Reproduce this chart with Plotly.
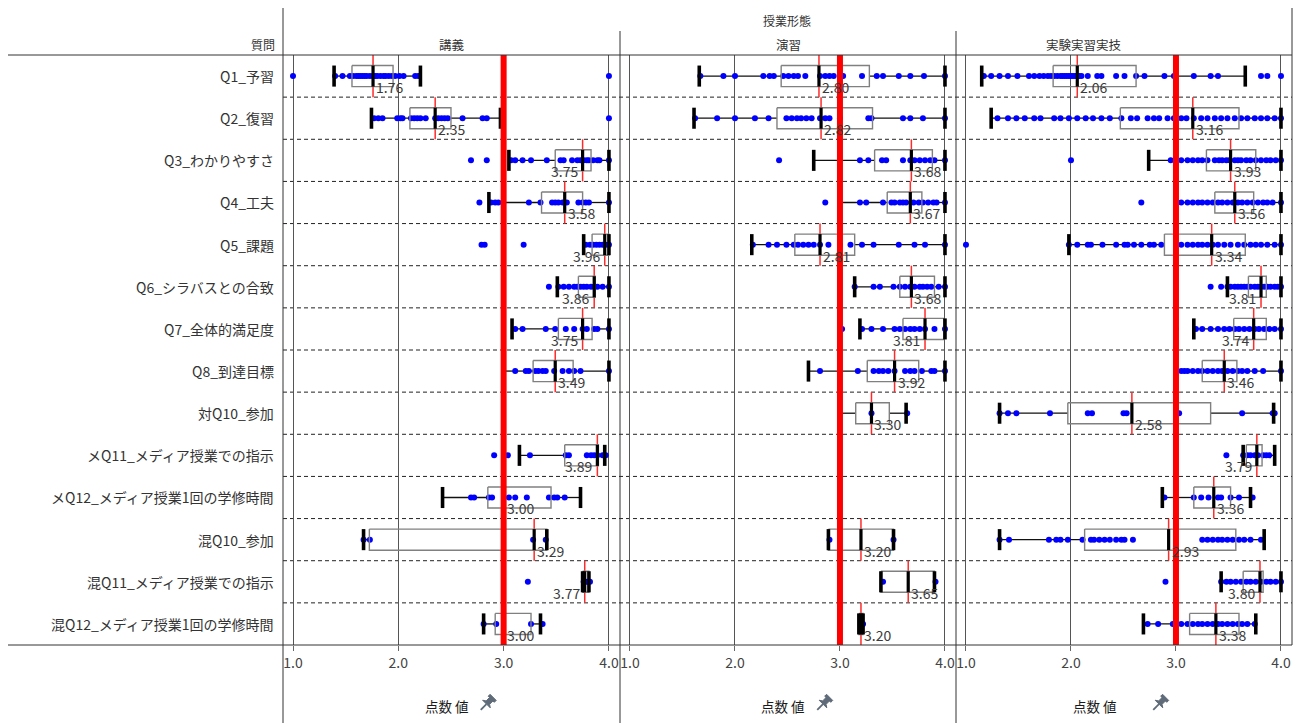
import plotly.graph_objects as go

# ---------------- data ----------------
ROWS = ["Q1_予習", "Q2_復習", "Q3_わかりやすさ", "Q4_工夫", "Q5_課題",
        "Q6_シラバスとの合致", "Q7_全体的満足度", "Q8_到達目標", "対Q10_参加",
        "メQ11_メディア授業での指示", "メQ12_メディア授業1回の学修時間",
        "混Q10_参加", "混Q11_メディア授業での指示", "混Q12_メディア授業1回の学修時間"]
PANELS = ["講義", "演習", "実験実習実技"]
SUPER_HEADER = "授業形態"
ROW_HEADER = "質問"
AXIS_TITLE = "点数 値"
TICK_VALUES = [1, 2, 3, 4]
TICK_LABELS = ["1.0", "2.0", "3.0", "4.0"]
TARGET = 3.0

# 講義
P1_LO = [1.39, 1.745, 3.05, 2.86, 3.76, 3.51, 3.08, 3.0, None, 3.15, 2.42, 1.67, 3.75, 2.81]
P1_Q1 = [1.56, 2.11, 3.49, 3.36, 3.84, 3.71, 3.52, 3.28, None, 3.58, 2.85, 1.725, 3.75, 2.92]
P1_MED = [1.76, 2.35, 3.75, 3.58, 3.96, 3.86, 3.75, 3.49, None, 3.89, 3.00, 3.29, 3.77, 3.00]
P1_Q3 = [1.95, 2.50, 3.83, 3.75, 4.0, 3.87, 3.84, 3.66, None, 3.90, 3.45, 3.41, 3.81, 3.26]
P1_HI = [2.21, 2.97, 4.0, 4.0, 4.0, 4.0, 4.0, 4.0, None, 3.96, 3.73, 3.41, 3.81, 3.35]
P1_LBL = ["1.76", "2.35", "3.75", "3.58", "3.96", "3.86", "3.75", "3.49", None,
          "3.89", "3.00", "3.29", "3.77", "3.00"]
P1_DOTS = [
    [1.0, 1.40, 1.47, 1.54, 1.57, 1.60, 1.62, 1.64, 1.66, 1.68, 1.70, 1.73, 1.76, 1.78,
     1.80, 1.83, 1.86, 1.88, 1.91, 1.94, 1.97, 2.01, 2.05, 2.16, 2.19, 4.0],
    [1.77, 1.81, 1.85, 1.99, 2.02, 2.04, 2.12, 2.15, 2.18, 2.21, 2.26, 2.35, 2.38, 2.41,
     2.44, 2.47, 2.61, 2.80, 2.84, 4.0],
    [2.69, 2.84, 3.07, 3.11, 3.18, 3.26, 3.41, 3.54, 3.57, 3.65, 3.70, 3.73, 3.76, 3.79,
     3.81, 3.85, 3.89, 3.91, 4.0],
    [2.77, 2.88, 2.92, 2.95, 3.24, 3.35, 3.46, 3.49, 3.52, 3.56, 3.60, 3.71, 3.75, 3.78,
     3.81, 4.0],
    [2.79, 2.82, 3.19, 3.78, 3.82, 3.85, 3.88, 3.91, 3.94, 3.97, 4.0],
    [3.43, 3.52, 3.57, 3.62, 3.67, 3.70, 3.73, 3.76, 3.79, 3.83, 3.86, 3.89, 3.94, 4.0],
    [3.11, 3.18, 3.40, 3.49, 3.59, 3.67, 3.75, 3.79, 3.86, 3.89, 4.0],
    [3.11, 3.21, 3.24, 3.30, 3.33, 3.37, 3.40, 3.48, 3.56, 3.62, 3.67, 3.73, 4.0],
    [],
    [2.91, 3.04, 3.25, 3.59, 3.62, 3.79, 3.83, 3.86, 3.89, 3.94, 3.97],
    [2.69, 2.72, 2.86, 2.89, 3.05, 3.11, 3.22, 3.43, 3.48, 3.51, 3.58],
    [1.67, 1.73, 3.28, 3.40],
    [3.23, 3.76, 3.78, 3.80, 3.82],
    [2.81, 2.93, 3.26, 3.37],
]

# 演習
P2_LO = [1.66, 1.61, 2.75, 3.0, 2.16, 3.14, 3.19, 2.70, 3.0, None, None, 2.89, 3.39, 3.18]
P2_Q1 = [2.44, 2.40, 3.33, 3.45, 2.57, 3.57, 3.60, 3.26, 3.15, None, None, 2.89, 3.39, 3.18]
P2_MED = [2.80, 2.82, 3.68, 3.67, 2.81, 3.68, 3.81, 3.52, 3.30, None, None, 3.20, 3.65, 3.20]
P2_Q3 = [3.28, 3.31, 3.88, 3.78, 3.14, 3.90, 3.99, 3.75, 3.47, None, None, 3.51, 3.90, 3.22]
P2_HI = [4.0, 4.0, 4.0, 4.0, 4.0, 4.0, 4.0, 4.0, 3.63, None, None, 3.51, 3.90, 3.22]
P2_LBL = ["2.80", "2.82", "3.68", "3.67", "2.81", "3.68", "3.81", "3.92", "3.30", None, None,
          "3.20", "3.65", "3.20"]
P2_DOTS = [
    [1.67, 1.89, 2.0, 2.27, 2.33, 2.37, 2.46, 2.51, 2.56, 2.60, 2.67, 2.81, 2.86, 2.90,
     2.94, 3.03, 3.21, 3.35, 3.41, 3.56, 3.67, 3.80, 4.0],
    [1.62, 1.83, 2.0, 2.19, 2.32, 2.49, 2.54, 2.59, 2.63, 2.68, 2.73, 2.81, 2.86, 2.90,
     3.0, 3.27, 3.30, 3.60, 3.67, 3.79, 4.0],
    [2.42, 3.19, 3.27, 3.40, 3.44, 3.60, 3.67, 3.71, 3.76, 3.81, 3.86, 3.90, 4.0],
    [2.86, 3.19, 3.25, 3.41, 3.49, 3.52, 3.57, 3.60, 3.63, 3.70, 3.75, 3.79, 3.84, 3.89,
     3.92, 4.0],
    [2.17, 2.32, 2.40, 2.49, 2.56, 2.60, 2.65, 2.70, 2.75, 2.81, 2.89, 3.0, 3.10, 3.21,
     3.32, 3.56, 3.71, 3.81, 4.0],
    [3.14, 3.32, 3.38, 3.51, 3.57, 3.62, 3.67, 3.71, 3.76, 3.79, 3.83, 3.87, 3.94, 4.0],
    [3.02, 3.21, 3.30, 3.41, 3.52, 3.57, 3.62, 3.67, 3.71, 3.76, 3.81, 3.90, 4.0],
    [2.81, 3.17, 3.32, 3.37, 3.41, 3.46, 3.52, 3.62, 3.67, 3.71, 3.78, 3.87, 3.90, 4.0],
    [3.30, 3.64],
    [],
    [],
    [2.90, 3.51],
    [3.41, 3.91],
    [3.22],
]

# 実験実習実技
P3_LO = [1.15, 1.24, 2.74, 3.0, 1.98, 3.49, 3.17, 3.0, 1.32, 3.64, 2.87, 1.32, 3.43, 2.69]
P3_Q1 = [1.83, 2.47, 3.29, 3.37, 2.89, 3.69, 3.55, 3.25, 1.97, 3.67, 3.17, 2.13, 3.64, 3.13]
P3_MED = [2.06, 3.16, 3.52, 3.56, 3.34, 3.81, 3.74, 3.46, 2.58, 3.77, 3.36, 2.93, 3.80, 3.38]
P3_Q3 = [2.62, 3.60, 3.76, 3.74, 3.66, 3.86, 3.86, 3.58, 3.33, 3.82, 3.52, 3.57, 3.83, 3.60]
P3_HI = [3.66, 4.0, 4.0, 4.0, 4.0, 4.0, 4.0, 4.0, 3.93, 3.94, 3.71, 3.84, 4.0, 3.76]
P3_LBL = ["2.06", "3.16", "3.93", "3.56", "3.34", "3.81", "3.74", "3.46", "2.58", "3.79",
          "3.36", "2.93", "3.80", "3.38"]
P3_DOTS = [
    [1.17, 1.24, 1.32, 1.40, 1.49, 1.60, 1.65, 1.70, 1.74, 1.78, 1.81, 1.84, 1.87, 1.90,
     1.92, 1.94, 1.96, 1.98, 2.00, 2.02, 2.04, 2.06, 2.08, 2.10, 2.16, 2.25, 2.29, 2.43,
     2.51, 2.62, 2.70, 2.89, 2.98, 3.17, 3.33, 3.40, 3.81, 3.87, 4.0],
    [1.30, 1.40, 1.48, 1.56, 1.65, 1.71, 1.84, 1.90, 1.98, 2.06, 2.14, 2.21, 2.29, 2.37,
     2.48, 2.57, 2.63, 2.73, 2.79, 2.84, 2.92, 2.98, 3.05, 3.10, 3.17, 3.24, 3.30, 3.37,
     3.43, 3.49, 3.56, 3.62, 3.68, 3.75, 3.81, 3.87, 3.94, 4.0],
    [2.0, 2.95, 3.05, 3.11, 3.16, 3.21, 3.25, 3.30, 3.37, 3.41, 3.44, 3.48, 3.51, 3.56,
     3.59, 3.62, 3.67, 3.71, 3.76, 3.81, 3.86, 3.90, 3.95, 4.0],
    [2.67, 3.05, 3.11, 3.16, 3.21, 3.25, 3.30, 3.35, 3.40, 3.44, 3.49, 3.54, 3.59, 3.63,
     3.68, 3.73, 3.78, 3.83, 3.87, 3.92, 4.0],
    [1.0, 1.98, 2.06, 2.16, 2.19, 2.30, 2.43, 2.51, 2.54, 2.60, 2.67, 2.75, 2.79, 2.86,
     3.05, 3.11, 3.16, 3.21, 3.25, 3.30, 3.35, 3.40, 3.46, 3.52, 3.59, 3.65, 3.71, 3.76,
     3.81, 3.87, 3.94, 4.0],
    [3.33, 3.43, 3.49, 3.52, 3.56, 3.59, 3.62, 3.65, 3.68, 3.71, 3.75, 3.78, 3.81, 3.84,
     3.87, 3.90, 3.94, 3.97, 4.0],
    [3.0, 3.19, 3.25, 3.33, 3.40, 3.46, 3.51, 3.56, 3.60, 3.65, 3.70, 3.75, 3.79, 3.84,
     3.89, 3.94, 4.0],
    [3.05, 3.08, 3.11, 3.16, 3.21, 3.25, 3.30, 3.35, 3.40, 3.44, 3.49, 3.54, 3.59, 3.63,
     3.68, 3.75, 3.83, 4.0],
    [1.32, 1.40, 1.48, 1.80, 2.16, 2.20, 2.50, 2.53, 3.03, 3.63, 3.92, 3.94],
    [3.48, 3.64, 3.68, 3.71, 3.75, 3.78, 3.83, 3.86, 3.89],
    [2.89, 3.17, 3.24, 3.31, 3.40, 3.43, 3.52, 3.60, 3.73],
    [1.32, 1.41, 1.79, 1.86, 1.90, 1.97, 2.11, 2.19, 2.22, 2.27, 2.32, 2.37, 2.43, 2.48,
     2.51, 2.59, 3.25, 3.30, 3.35, 3.40, 3.44, 3.49, 3.54, 3.60, 3.65, 3.71, 3.81],
    [2.90, 3.43, 3.48, 3.52, 3.57, 3.62, 3.67, 3.71, 3.76, 3.81, 3.86, 3.90, 3.95, 4.0],
    [2.73, 2.83, 2.97, 3.05, 3.11, 3.16, 3.21, 3.25, 3.30, 3.35, 3.40, 3.44, 3.49, 3.54,
     3.59, 3.63, 3.68, 3.75],
]

PANEL_DATA = [
    (P1_LO, P1_Q1, P1_MED, P1_Q3, P1_HI, P1_LBL, P1_DOTS),
    (P2_LO, P2_Q1, P2_MED, P2_Q3, P2_HI, P2_LBL, P2_DOTS),
    (P3_LO, P3_Q1, P3_MED, P3_Q3, P3_HI, P3_LBL, P3_DOTS),
]

# ---------------- layout geometry ----------------
W, H = 1299, 723
FONT = "Noto Sans CJK JP"
TXT = "#333333"


def px(x):
    return x / W


def py(y):
    return 1 - y / H


PANEL_EDGES = [283, 620, 956, 1292]
TOP, BOTTOM = 55, 645
XRANGE = [0.905, 4.105]
HALF = 0.25  # half box height in row units

fig = go.Figure()
annotations = []
shapes = []

n = len(ROWS)
for p, (lo, q1, med, q3, hi, lbl, dots) in enumerate(PANEL_DATA):
    xa = "x" if p == 0 else f"x{p + 1}"
    wx, wy, bx, by, mx, my, cx, cy, rx, ry, dx, dy = ([] for _ in range(12))
    for i in range(n):
        c = i + 0.5
        for v in dots[i]:
            dx.append(v)
            dy.append(c)
        if med[i] is None:
            continue
        wx += [lo[i], q1[i], None, q3[i], hi[i], None]
        wy += [c, c, None, c, c, None]
        bx += [q1[i], q3[i], q3[i], q1[i], q1[i], None]
        by += [c - HALF, c - HALF, c + HALF, c + HALF, c - HALF, None]
        mx += [med[i], med[i], None]
        my += [c - HALF, c + HALF, None]
        cx += [lo[i], lo[i], None, hi[i], hi[i], None]
        cy += [c - HALF, c + HALF, None, c - HALF, c + HALF, None]
        rx += [med[i], med[i], None]
        ry += [i, i + 1, None]
        right = med[i] + 0.30 <= 4.0
        annotations.append(dict(
            x=med[i], y=c, xref=xa, yref="y", text=lbl[i], showarrow=False,
            xanchor="left" if right else "right", yanchor="middle",
            xshift=1 if right else -3, yshift=-11,
            font=dict(family=FONT, size=14, color="#3a3a3a")))
    common = dict(xaxis=xa, yaxis="y", showlegend=False, hoverinfo="skip")
    fig.add_trace(go.Scatter(x=rx, y=ry, mode="lines",
                             line=dict(color="#ff2a2a", width=1.5), **common))
    fig.add_trace(go.Scatter(x=wx, y=wy, mode="lines",
                             line=dict(color="#111111", width=1.3), **common))
    fig.add_trace(go.Scatter(x=dx, y=dy, mode="markers",
                             marker=dict(color="#0000ff", size=6, line=dict(width=0)),
                             **common))
    fig.add_trace(go.Scatter(x=bx, y=by, mode="lines",
                             line=dict(color="#808080", width=1.4), **common))
    fig.add_trace(go.Scatter(x=mx, y=my, mode="lines",
                             line=dict(color="#000000", width=3.2), **common))
    fig.add_trace(go.Scatter(x=cx, y=cy, mode="lines",
                             line=dict(color="#000000", width=3.6), **common))
    # target line
    shapes.append(dict(type="line", xref=xa, yref="y", x0=TARGET, x1=TARGET, y0=0, y1=n,
                       line=dict(color="#ff0000", width=6), layer="above"))

# row separators (dashed)
for k in range(1, n):
    shapes.append(dict(type="line", xref="paper", yref="y", x0=px(283), x1=px(1292),
                       y0=k, y1=k, line=dict(color="#222222", width=1, dash="4px,3px"),
                       layer="below"))

# frame lines
frame = [
    (283, 8, 283, H), (620, 31, 620, H), (956, 31, 956, H), (1292, 8, 1292, BOTTOM),
    (8, TOP, 1292, TOP), (8, BOTTOM, 1292, BOTTOM),
]
for x0, y0, x1, y1 in frame:
    shapes.append(dict(type="line", xref="paper", yref="paper", x0=px(x0), x1=px(x1),
                       y0=py(y0), y1=py(y1), line=dict(color="#333333", width=1)))

# push-pin icon path (pixel offsets, decorative)
PIN_SCALE = 1.35


def _pt(t, s):
    return (0.707 * (t - s) * PIN_SCALE, 0.707 * (t + s) * PIN_SCALE)


_pin_pts = [_pt(1, -4), _pt(2.5, -1.8), _pt(6, -1.8), _pt(6, -3.2), _pt(8, -3.2),
            _pt(8, 3.2), _pt(6, 3.2), _pt(6, 1.8), _pt(2.5, 1.8), _pt(1, 4)]
PIN_PATH = "M" + " L".join(f"{a:.2f},{b:.2f}" for a, b in _pin_pts) + " Z"
NEEDLE = "M{:.2f},{:.2f} L{:.2f},{:.2f}".format(*_pt(1, 0), *_pt(-5, 0))

# row labels
for i, r in enumerate(ROWS):
    annotations.append(dict(x=px(276), y=i + 0.5, xref="paper", yref="y", text=r,
                            showarrow=False, xanchor="right", yanchor="middle",
                            font=dict(family=FONT, size=14, color=TXT)))

# headers
annotations.append(dict(x=px((PANEL_EDGES[0] + PANEL_EDGES[-1]) / 2), y=py(20), xref="paper",
                        yref="paper", text=SUPER_HEADER, showarrow=False, yanchor="middle",
                        font=dict(family=FONT, size=12, color=TXT)))
annotations.append(dict(x=px(277), y=py(44), xref="paper", yref="paper", text=ROW_HEADER,
                        showarrow=False, xanchor="right", yanchor="middle",
                        font=dict(family=FONT, size=12, color=TXT)))
for p, name in enumerate(PANELS):
    mid = (PANEL_EDGES[p] + PANEL_EDGES[p + 1]) / 2
    annotations.append(dict(x=px(mid), y=py(44), xref="paper", yref="paper", text=name,
                            showarrow=False, yanchor="middle",
                            font=dict(family=FONT, size=12.5, color=TXT)))
    annotations.append(dict(x=px(mid - 5), y=py(706), xref="paper", yref="paper",
                            text=AXIS_TITLE, showarrow=False, yanchor="middle",
                            font=dict(family=FONT, size=13.5, color="#1a1a1a")))
    ax, ay = px(mid + 34), py(705)
    shapes.append(dict(type="path", xref="paper", yref="paper", xsizemode="pixel",
                       ysizemode="pixel", xanchor=ax, yanchor=ay, path=PIN_PATH,
                       fillcolor="#5f6b78", line=dict(color="#5f6b78", width=1)))
    shapes.append(dict(type="path", xref="paper", yref="paper", xsizemode="pixel",
                       ysizemode="pixel", xanchor=ax, yanchor=ay, path=NEEDLE,
                       line=dict(color="#5f6b78", width=1.8)))

layout = dict(
    width=W, height=H, margin=dict(l=0, r=0, t=0, b=0),
    paper_bgcolor="white", plot_bgcolor="white",
    font=dict(family=FONT, color=TXT),
    yaxis=dict(domain=[py(BOTTOM), py(TOP)], range=[n, 0], visible=False, fixedrange=True),
    annotations=annotations, shapes=shapes,
)
for p in range(3):
    key = "xaxis" if p == 0 else f"xaxis{p + 1}"
    layout[key] = dict(
        domain=[px(PANEL_EDGES[p]), px(PANEL_EDGES[p + 1])], range=XRANGE, anchor="y",
        tickvals=TICK_VALUES, ticktext=TICK_LABELS, ticks="outside", ticklen=5,
        tickcolor="#666666", showgrid=True, gridcolor="#555555", gridwidth=1,
        zeroline=False, showline=False,
        tickfont=dict(family=FONT, size=14, color="#444444"), fixedrange=True)
fig.update_layout(**layout)

fig.write_html("out.html", config={"displayModeBar": False},
               post_script="document.body.style.margin='0';document.body.style.overflow='hidden';")
